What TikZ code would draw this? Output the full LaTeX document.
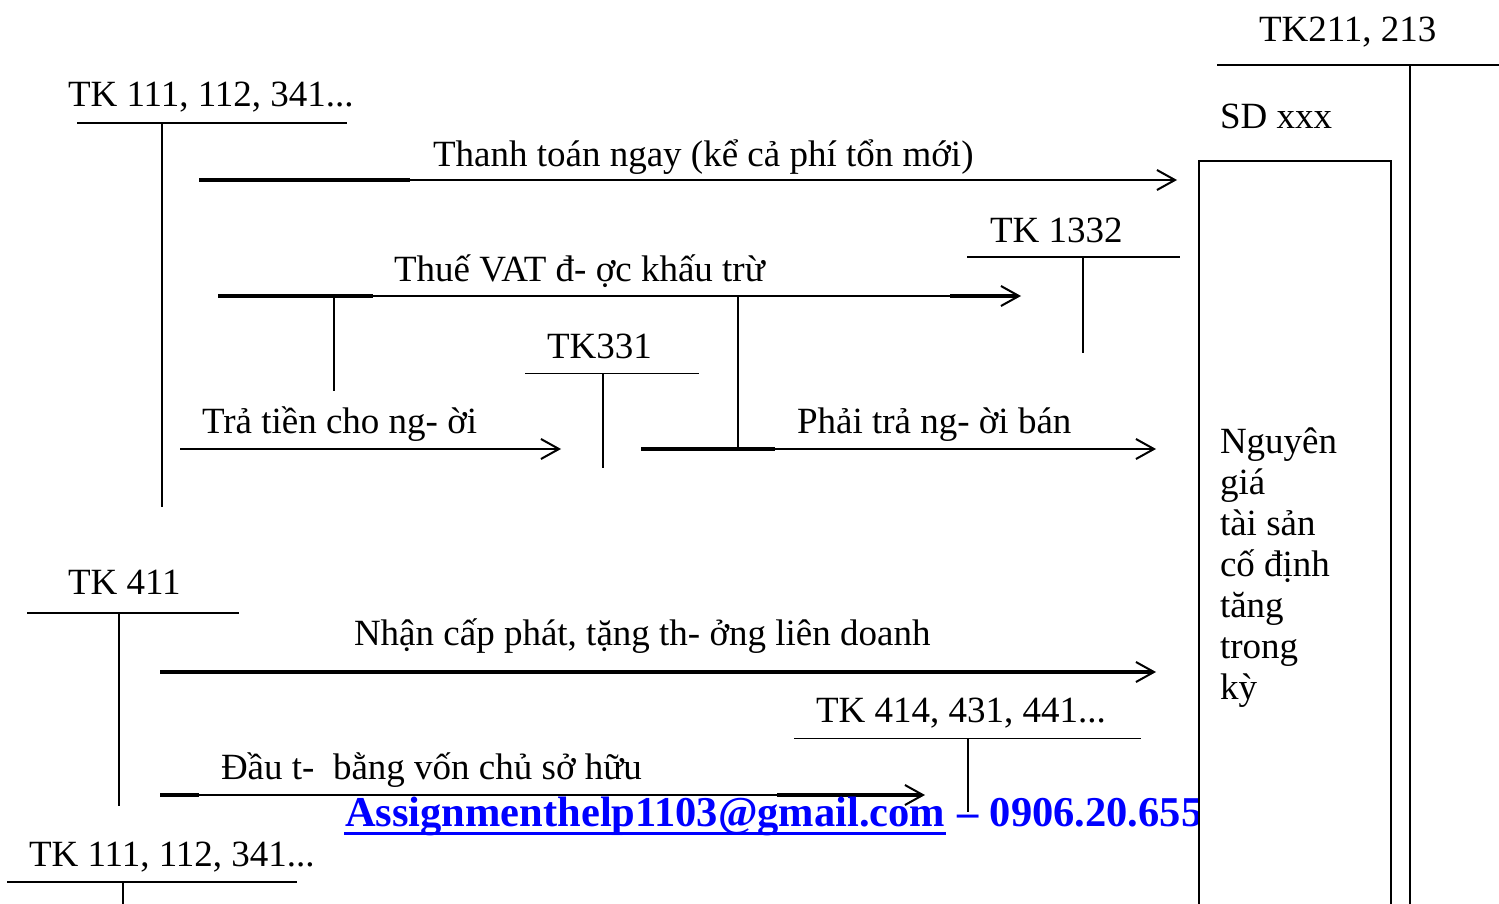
\documentclass[tikz,border=0pt]{standalone}
\usepackage{fontspec}
\setmainfont{Liberation Serif}
\usetikzlibrary{arrows.meta}
\begin{document}
\begin{tikzpicture}[x=0.5pt, y=-0.5pt, line width=1pt,
    every node/.style={inner sep=0pt, anchor=base west, font=\fontsize{18.5}{20.5}\selectfont},
    muiten/.style={-{Straight Barb[length=9pt,width=10pt,line width=1pt]}},
    dam/.style={line width=1.6pt},
    manh/.style={line width=0.5pt},
    wm/.style={text=blue, font=\fontsize{21.25}{24}\selectfont\bfseries}]
    \useasboundingbox (0,0) rectangle (1499,904);
    % Tai khoan TK 111, 112, 341 (tren)
    \node (tk111) at (67,107) {TK 111, 112, 341...};
    \draw (77,123) -- (347,123);
    \draw (162,123) -- (162,507);
    % Thanh toan ngay
    \node (lbtt) at (432,166) {Thanh toán ngay (kể cả phí tổn mới)};
    \coordinate (tt1) at (199,180);
    \coordinate (tt2) at (1177,180);
    \coordinate (tt3) at (410,180);
    \draw[muiten] (tt1) -- (tt2);
    \draw[dam] (tt1) -- (tt3);
    % Tai khoan TK 1332
    \node (tk1332) at (989,242) {TK 1332};
    \draw (967,257) -- (1180,257);
    \draw (1083,257) -- (1083,353);
    % Thue VAT
    \node (lbvat) at (393,281) {Thuế VAT đ- ợc khấu trừ};
    \coordinate (vat1) at (218,296);
    \coordinate (vat2) at (1021,296);
    \coordinate (vat3) at (373,296);
    \coordinate (vat4) at (950,296);
    \coordinate (vat5) at (1018,296);
    \draw[muiten] (vat1) -- (vat2);
    \draw[dam] (vat1) -- (vat3);
    \draw[dam] (vat4) -- (vat5);
    \coordinate (vd1) at (334,296);
    \coordinate (vd2) at (334,391);
    \draw (vd1) -- (vd2);
    \coordinate (vd3) at (738,296);
    \coordinate (vd4) at (738,449);
    \draw (vd3) -- (vd4);
    % Tai khoan TK331
    \node (tk331) at (546,358) {TK331};
    \draw[manh] (525,373) -- (699,373);
    \draw (603,373) -- (603,468);
    % Tra tien cho nguoi ban
    \node (lbtra) at (201,433) {Trả tiền cho ng- ời};
    \coordinate (tr1) at (180,449);
    \coordinate (tr2) at (561,449);
    \draw[muiten] (tr1) -- (tr2);
    % Phai tra nguoi ban
    \node (lbphai) at (796,433) {Phải trả ng- ời bán};
    \coordinate (ph1) at (641,449);
    \coordinate (ph2) at (1156,449);
    \coordinate (ph3) at (775,449);
    \draw[muiten] (ph1) -- (ph2);
    \draw[dam] (ph1) -- (ph3);
    % Tai khoan TK 411
    \node (tk411) at (67,594) {TK 411};
    \draw (27,613) -- (239,613);
    \draw (119,613) -- (119,806);
    % Nhan cap phat
    \node (lbnhan) at (353,645) {Nhận cấp phát, tặng th- ởng liên doanh};
    \coordinate (nh1) at (160,672);
    \coordinate (nh2) at (1156,672);
    \draw[muiten, dam] (nh1) -- (nh2);
    % Tai khoan TK 414, 431, 441
    \node (tk414) at (815,722) {TK 414, 431, 441...};
    \draw[manh] (794,738) -- (1141,738);
    \draw (968,738) -- (968,812);
    % Dau tu bang von chu so huu
    \node (lbdau) at (220,779) {Đầu t-\ \ bằng vốn chủ sở hữu};
    \coordinate (dt1) at (160,795);
    \coordinate (dt2) at (925,795);
    \coordinate (dt3) at (199,795);
    \coordinate (dt4) at (777,795);
    \coordinate (dt5) at (922,795);
    \draw[muiten] (dt1) -- (dt2);
    \draw[dam] (dt1) -- (dt3);
    \draw[dam] (dt4) -- (dt5);
    % Tai khoan TK 111, 112, 341 (duoi)
    \node (tk111b) at (28,866) {TK 111, 112, 341...};
    \draw (7,882) -- (297,882);
    \draw (123,882) -- (123,904);
    % Dong chu xanh
    \node[wm] (mail) at (344,826) {Assignmenthelp1103@gmail.com};
    \node[wm] (tel) at (mail.base east) {\ – 0906.20.655};
    \draw[blue, line width=1.5pt] ([yshift=-3.5pt]mail.base west) -- ([yshift=-3.5pt]mail.base east);
    % Tai khoan TK211, 213
    \node (tk211) at (1258,42) {TK211, 213};
    \draw (1217,65) -- (1499,65);
    \draw (1410,65) -- (1410,910);
    \node (sd) at (1219,128) {SD xxx};
    \draw[fill=white] (1199,161) rectangle (1391,920);
    \foreach \w [count=\i] in {Nguyên, giá, tài sản, cố định, tăng, trong, kỳ}
        \node (ng\i) at (1219,412+41*\i) {\w};
\end{tikzpicture}
\end{document}
